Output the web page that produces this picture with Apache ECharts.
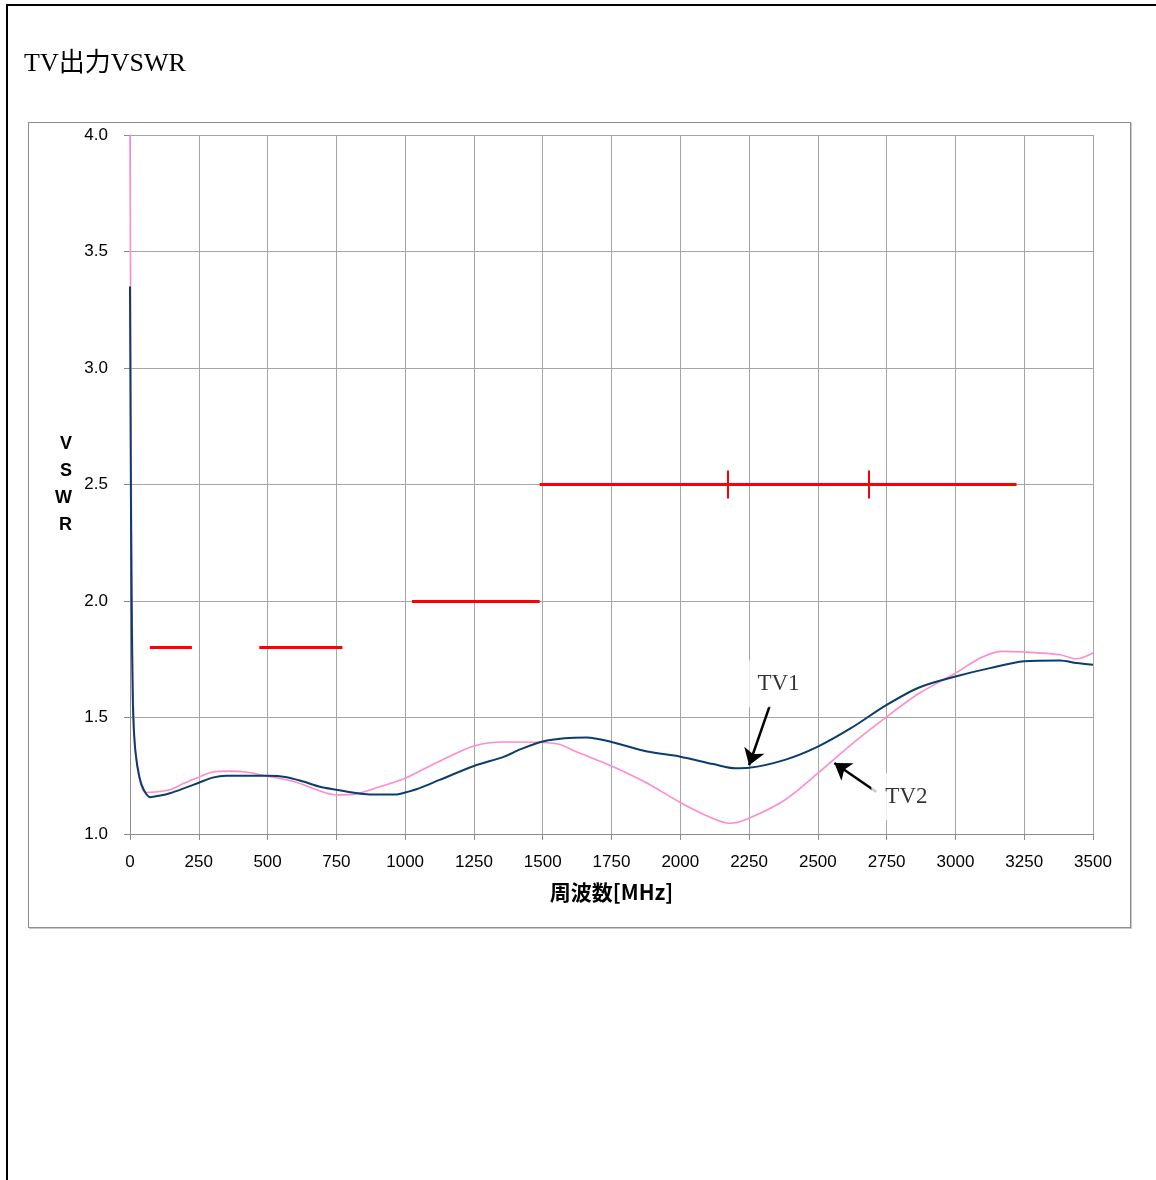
<!DOCTYPE html>
<html>
<head>
<meta charset="utf-8">
<script src="https://cdn.jsdelivr.net/npm/echarts@6/dist/echarts.min.js"></script>
<style>
  body { margin: 0; background: #fff; }
  #page { position: relative; width: 1156px; height: 1180px; overflow: hidden; }
  .edge-top { position: absolute; left: 6px; top: 4px; width: 1150px; height: 2px; background: #000; }
  .edge-left { position: absolute; left: 6px; top: 4px; width: 2px; height: 1176px; background: #000; }
  .box { position: absolute; left: 28px; top: 122px; width: 1101px; height: 804px;
         border: 1px solid #8c8c8c; box-shadow: 1px 1px 0 #c8c8c8; }
  #chart { position: absolute; left: 0; top: 0; width: 1156px; height: 1180px; }
</style>
</head>
<body>
<div id="page">
  <div class="edge-top"></div>
  <div class="edge-left"></div>
  <div class="box"></div>
  <div id="chart"></div>
</div>
<script>
// measured curves (frequency MHz / VSWR)
const tv1Freq = [0, 4, 8, 12, 20, 35, 50, 73, 110, 145, 200, 250, 300, 350, 400, 450, 500, 570, 630, 690,
  750, 810, 870, 970, 1000, 1050, 1125, 1250, 1360, 1420, 1500, 1580, 1660, 1750, 1880, 2000, 2120, 2200,
  2250, 2380, 2500, 2620, 2750, 2870, 3000, 3125, 3250, 3380, 3440, 3500];
const tv1Vswr = [3.35, 2.3, 1.75, 1.5, 1.35, 1.24, 1.19, 1.158, 1.165, 1.175, 1.198, 1.22, 1.242, 1.25, 1.25,
  1.25, 1.25, 1.244, 1.225, 1.203, 1.19, 1.178, 1.17, 1.17, 1.178, 1.196, 1.232, 1.292, 1.332, 1.364, 1.397,
  1.411, 1.414, 1.395, 1.354, 1.332, 1.3, 1.282, 1.284, 1.318, 1.375, 1.454, 1.554, 1.63, 1.676, 1.712,
  1.741, 1.745, 1.734, 1.726];

const tv2Freq = [0, 3, 6, 10, 15, 25, 40, 55, 90, 145, 200, 250, 300, 360, 420, 500, 595, 690, 750, 810,
  900, 1000, 1110, 1250, 1360, 1500, 1560, 1620, 1750, 1880, 2000, 2100, 2180, 2250, 2380, 2500, 2620,
  2750, 2870, 3000, 3090, 3165, 3250, 3380, 3440, 3500];
const tv2Vswr = [4.0, 3.0, 2.2, 1.7, 1.45, 1.3, 1.21, 1.178, 1.18, 1.19, 1.22, 1.244, 1.266, 1.27, 1.266,
  1.248, 1.225, 1.185, 1.168, 1.17, 1.2, 1.239, 1.304, 1.378, 1.395, 1.393, 1.385, 1.354, 1.292, 1.218,
  1.135, 1.076, 1.046, 1.068, 1.146, 1.261, 1.383, 1.503, 1.605, 1.69, 1.755, 1.784, 1.781, 1.769,
  1.752, 1.777];

// spec limits: [start MHz, end MHz, VSWR]
const limitStart = [72, 470, 1025, 1489];
const limitEnd = [225, 772, 1489, 3222];
const limitValue = [1.8, 1.8, 2.0, 2.5];
const limitTicks = [2172, 2684];

// callouts: label position and arrow tail/head
const calloutNames = ["TV1", "TV2"];
const calloutText = [[2357, 1.645], [2822, 1.16]];
const calloutTail = [[2325, 1.55], [2713, 1.18]];
const calloutHead = [[2250, 1.295], [2560, 1.305]];

const zip = (xs, ys) => xs.map((x, i) => [x, ys[i]]);

const chart = echarts.init(document.getElementById("chart"));

const limitLines = limitStart.map((s, i) => ({
  coords: [[s, limitValue[i]], [limitEnd[i], limitValue[i]]]
}));
limitTicks.forEach(f => {
  limitLines.push({ coords: [[f, 2.44], [f, 2.56]], lineStyle: { width: 2 } });
});

const tickFont = "'Liberation Sans', Arial, sans-serif";

const option = {
  animation: false,
  title: {
    text: "TV出力VSWR",
    left: 19,
    top: 46,
    textStyle: {
      fontFamily: "'Liberation Serif', 'DejaVu Serif', 'Noto Sans CJK JP', serif",
      fontSize: 26,
      fontWeight: "normal",
      color: "#000"
    }
  },
  grid: {
    left: 130,
    top: 135,
    right: 63,
    bottom: 346
  },
  xAxis: {
    type: "value",
    min: 0,
    max: 3500,
    interval: 250,
    name: "周波数[MHz]",
    nameLocation: "middle",
    nameGap: 48,
    nameTextStyle: {
      fontFamily: "'Noto Sans CJK JP', sans-serif",
      fontSize: 21,
      fontWeight: "bold",
      color: "#000"
    },
    axisLine: { lineStyle: { color: "#8c8c8c" } },
    axisTick: { length: 6, lineStyle: { color: "#8c8c8c" } },
    axisLabel: {
      margin: 20,
      formatter: v => String(v),
      fontFamily: tickFont,
      fontSize: 17,
      color: "#000"
    },
    splitLine: { lineStyle: { color: "#a6a6a6" } }
  },
  yAxis: {
    type: "value",
    min: 1.0,
    max: 4.0,
    interval: 0.5,
    name: "V\nS\nW\nR",
    nameLocation: "middle",
    nameRotate: 0,
    nameGap: 58,
    nameTextStyle: {
      fontFamily: tickFont,
      fontSize: 18,
      fontWeight: "bold",
      lineHeight: 27,
      padding: [0, 0, 11, 0],
      color: "#000"
    },
    axisLine: { show: true, lineStyle: { color: "#8c8c8c" } },
    axisTick: { show: true, length: 6, lineStyle: { color: "#8c8c8c" } },
    axisLabel: {
      margin: 22,
      formatter: v => v.toFixed(1),
      fontFamily: tickFont,
      fontSize: 17,
      color: "#000"
    },
    splitLine: { lineStyle: { color: "#a6a6a6" } }
  },
  series: [
    {
      name: "TV2",
      type: "line",
      data: zip(tv2Freq, tv2Vswr),
      smooth: 0.3,
      symbol: "none",
      lineStyle: { color: "#ff8ccc", width: 1.6 },
      z: 3
    },
    {
      name: "TV1",
      type: "line",
      data: zip(tv1Freq, tv1Vswr),
      smooth: 0.3,
      symbol: "none",
      lineStyle: { color: "#0b3d6e", width: 2 },
      z: 4
    },
    {
      name: "limit",
      type: "lines",
      coordinateSystem: "cartesian2d",
      data: limitLines,
      symbol: "none",
      lineStyle: { color: "#ff0000", width: 3, opacity: 1 },
      z: 5
    },
    {
      name: "arrows",
      type: "lines",
      coordinateSystem: "cartesian2d",
      data: calloutTail.map((t, i) => ({ coords: [t, calloutHead[i]] })),
      symbol: ["none", "arrow"],
      symbolSize: 16,
      lineStyle: { color: "#000", width: 2.5, opacity: 1 },
      z: 6
    },
    {
      name: "labels",
      type: "scatter",
      data: calloutText.map((p, i) => ({ value: p, name: calloutNames[i] })),
      symbolSize: 0,
      label: {
        show: true,
        position: "inside",
        formatter: p => p.name,
        backgroundColor: "#fff",
        padding: [12, 14, 12, 14],
        fontFamily: "'Liberation Serif', 'DejaVu Serif', serif",
        fontSize: 23,
        color: "#000"
      },
      z: 7
    }
  ]
};

chart.setOption(option);
</script>
</body>
</html>
